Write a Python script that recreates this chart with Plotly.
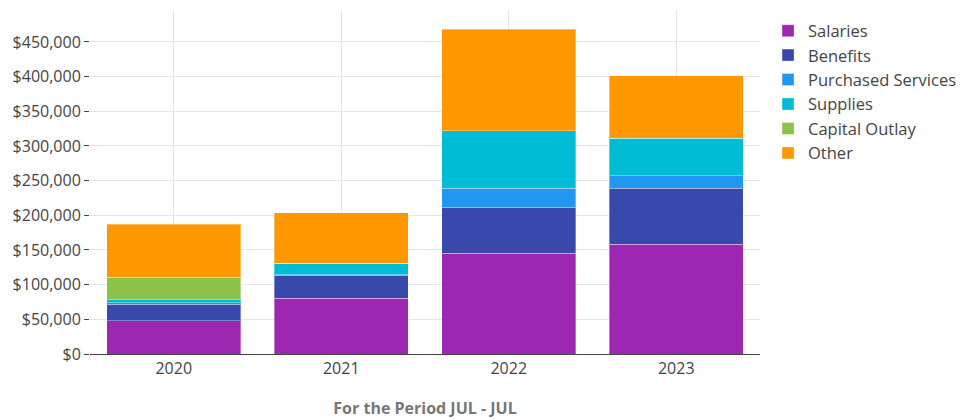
import plotly.graph_objects as go

years = ["2020", "2021", "2022", "2023"]
series_names = ["Salaries", "Benefits", "Purchased Services", "Supplies", "Capital Outlay", "Other"]
salaries = [48000, 80200, 145100, 158000]
benefits = [24000, 33200, 66700, 80800]
purchased_services = [2000, 1000, 27000, 18100]
supplies = [4300, 16200, 83000, 54400]
capital_outlay = [32700, 0, 0, 0]
other = [76000, 73400, 146500, 90200]
colors = ["#9c27b0", "#3949ab", "#2196f3", "#00bcd4", "#8bc34a", "#ff9800"]

values = [salaries, benefits, purchased_services, supplies, capital_outlay, other]

fig = go.Figure()
for name, vals, col in zip(series_names, values, colors):
    fig.add_trace(go.Bar(
        x=years, y=vals, name=name,
        marker=dict(color=col, line=dict(color="rgba(255,255,255,0.35)", width=1)),
        hovertemplate="%{x}<br>" + name + ": $%{y:,.0f}<extra></extra>",
    ))

fig.update_layout(
    barmode="stack",
    bargap=0.2,
    width=961, height=411,
    margin=dict(l=82, r=209, t=2, b=65, autoexpand=False),
    paper_bgcolor="white",
    plot_bgcolor="white",
    font=dict(family="Open Sans", size=16, color="#444"),
    legend=dict(x=1.012, y=0.99, xanchor="left", yanchor="top", traceorder="normal",
                font=dict(size=16.5, color="#444"), tracegroupgap=0),
    xaxis=dict(
        showgrid=True, gridcolor="#e6e6e6", showline=True, linecolor="#444",
        linewidth=1, tickfont=dict(size=16, color="#444"),
        title=dict(text="<b>For the Period JUL - JUL</b>",
                   font=dict(size=16, color="#777"), standoff=30),
    ),
    yaxis=dict(
        showgrid=True, gridcolor="#e6e6e6", tickprefix="$", tickformat=",.0f",
        dtick=50000, ticks="outside", ticklen=5, tickcolor="#444",
        tickfont=dict(size=16, color="#444"), zeroline=False,
        range=[0, 496000],
    ),
)

fig.write_html("out.html")
